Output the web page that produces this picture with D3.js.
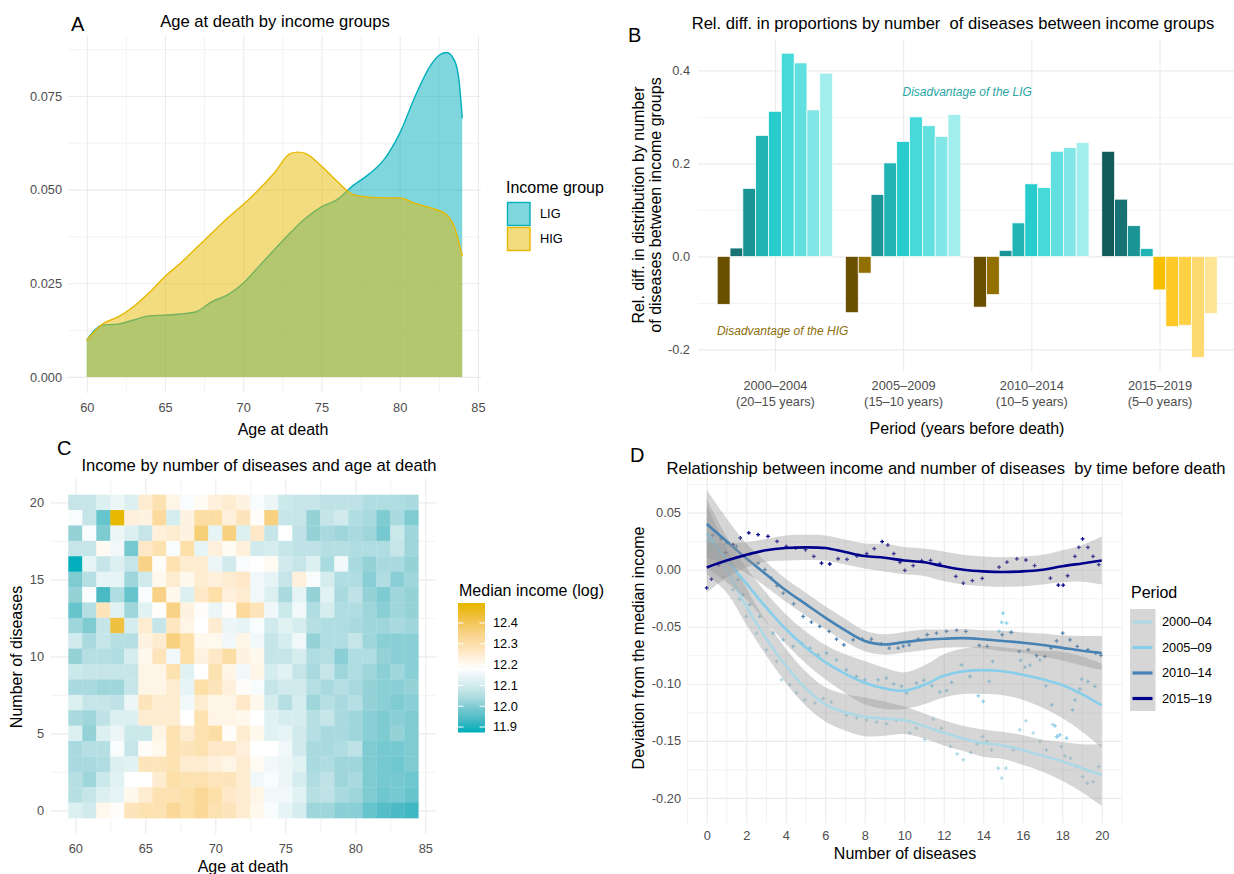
<!DOCTYPE html>
<html><head><meta charset="utf-8">
<script src="https://cdn.jsdelivr.net/npm/d3@7"></script>
<style>body{margin:0;background:#fff}svg{display:block}text{font-family:"Liberation Sans",Arial,Helvetica,sans-serif;white-space:pre}</style>
</head><body>
<svg id="c" width="1234" height="874"></svg>
<script>
// ---------------- DATA ----------------
// Panel A: density of age at death
const ligAges    = [60,61,62,63,64,65,66,67,68,69,70,71,72,73,74,75,76,77,78,79,80,81,82,82.5,83,83.5,83.8,84];
const ligDensity = [0.0098,0.0138,0.0141,0.0152,0.0163,0.0165,0.0168,0.0174,0.0201,0.0219,0.025,0.0295,0.034,0.0384,0.0424,0.0454,0.0473,0.051,0.054,0.058,0.065,0.075,0.0833,0.0858,0.0866,0.0845,0.079,0.069];
const higAges    = [60,61,62,63,64,65,66,67,68,69,70,71,72,73,73.5,74,75,76,77,78,79,80,81,82,83,83.5,84];
const higDensity = [0.0098,0.0141,0.016,0.0188,0.0225,0.0268,0.0304,0.0344,0.0384,0.0424,0.046,0.050,0.0545,0.0596,0.0600,0.0596,0.0563,0.0522,0.0487,0.048,0.0478,0.0478,0.0463,0.0451,0.0433,0.040,0.0323];
const incomeGroups = ["LIG","HIG"];

// Panel B: relative difference by number of diseases
const periods      = ["2000–2004","2005–2009","2010–2014","2015–2019"];
const periodYears  = ["(20–15 years)","(15–10 years)","(10–5 years)","(5–0 years)"];
const relDiff2000  = [-0.103,0.018,0.146,0.260,0.312,0.437,0.416,0.315,0.394];
const relDiff2005  = [-0.121,-0.036,0.133,0.201,0.247,0.300,0.281,0.258,0.305];
const relDiff2010  = [-0.109,-0.082,0.013,0.072,0.156,0.148,0.226,0.234,0.245];
const relDiff2015  = [0.226,0.123,0.066,0.017,-0.072,-0.151,-0.148,-0.217,-0.123];

// Panel C: median income (log) by age at death (cols) and number of diseases (rows, top = 20)
const heatAges = [60,61,62,63,64,65,66,67,68,69,70,71,72,73,74,75,76,77,78,79,80,81,82,83,84];
const heatDiseases = [20,19,18,17,16,15,14,13,12,11,10,9,8,7,6,5,4,3,2,1,0];
const medianIncome = [
 [12.08,12.08,12.12,12.15,12.12,12.25,12.29,12.22,12.17,12.2,12.24,12.25,12.23,12.17,12.15,12.09,12.08,12.08,12.07,12.07,12.07,12.05,12.05,12.05,12.04],
 [12.17,12.08,11.97,12.49,12.24,12.23,12.32,12.11,12.23,12.31,12.31,12.24,12.28,12.19,12.36,12.08,12.08,12.02,12.08,12.1,12.05,12.04,12.0,12.04,12.0],
 [12.02,12.17,12.0,12.15,12.12,12.08,12.24,12.25,12.23,12.37,12.14,12.36,12.12,12.26,12.08,12.18,12.07,12.02,12.04,12.03,12.04,12.03,11.99,12.09,12.03],
 [12.08,12.08,12.2,12.16,11.99,12.26,12.29,12.17,12.3,12.14,12.24,12.2,12.24,12.1,12.11,12.08,12.07,12.07,12.06,12.06,12.05,12.05,12.05,12.08,12.03],
 [11.88,12.14,12.08,12.12,12.08,12.35,12.19,12.29,12.25,12.25,12.15,12.1,12.17,12.18,12.2,12.1,12.08,12.12,12.04,12.16,12.04,12.02,12.04,12.04,12.02],
 [12.0,12.06,12.14,12.14,12.03,12.1,12.21,12.25,12.21,12.25,12.24,12.25,12.26,12.16,12.14,12.08,12.24,12.17,12.11,12.05,12.05,12.01,12.05,12.01,12.03],
 [12.02,12.17,11.94,12.05,11.97,12.17,12.35,12.21,12.12,12.26,12.3,12.24,12.25,12.16,12.12,12.04,12.14,12.02,12.13,12.04,12.07,12.02,12.0,12.03,12.02],
 [11.97,12.06,12.28,12.13,12.03,12.13,12.19,12.35,12.23,12.19,12.15,12.19,12.32,12.28,12.16,12.09,12.16,12.05,12.11,12.05,12.05,12.03,12.01,12.03,12.02],
 [12.03,12.0,12.08,12.43,12.11,12.25,12.08,12.27,12.22,12.18,12.25,12.15,12.14,12.17,12.1,12.13,12.11,12.06,12.05,12.05,12.04,12.03,12.03,12.04,12.03],
 [12.1,12.04,12.08,12.06,12.06,12.23,12.25,12.36,12.3,12.21,12.21,12.16,12.22,12.16,12.08,12.11,12.16,12.02,12.05,12.05,12.08,12.03,12.01,12.01,12.01],
 [12.02,12.06,12.06,12.05,12.11,12.21,12.28,12.16,12.3,12.23,12.26,12.31,12.23,12.21,12.08,12.08,12.11,12.05,12.06,12.01,12.05,12.05,12.02,12.01,12.01],
 [12.09,12.08,12.08,12.08,12.08,12.22,12.22,12.29,12.13,12.18,12.29,12.22,12.16,12.22,12.11,12.13,12.08,12.04,12.08,12.03,12.05,12.03,12.01,12.03,12.01],
 [12.04,12.04,12.03,12.03,12.08,12.22,12.22,12.25,12.14,12.3,12.28,12.24,12.19,12.17,12.08,12.1,12.1,12.06,12.04,12.06,12.04,12.02,12.01,12.01,12.02],
 [12.12,12.08,12.08,12.07,12.15,12.28,12.25,12.25,12.16,12.25,12.22,12.22,12.26,12.21,12.11,12.06,12.11,12.03,12.06,12.04,12.06,12.02,12.01,12.0,12.01],
 [12.04,12.03,12.07,12.12,12.12,12.25,12.25,12.25,12.18,12.29,12.22,12.22,12.21,12.18,12.13,12.11,12.11,12.06,12.08,12.04,12.03,12.01,12.0,12.01,12.0],
 [12.12,12.02,12.12,12.15,12.09,12.09,12.22,12.29,12.25,12.29,12.31,12.19,12.25,12.21,12.13,12.14,12.1,12.06,12.04,12.04,12.03,12.01,12.0,12.02,12.0],
 [12.04,12.06,12.06,12.17,12.08,12.19,12.21,12.29,12.28,12.29,12.26,12.26,12.24,12.18,12.18,12.16,12.1,12.04,12.04,12.05,12.07,12.0,11.99,11.99,12.0],
 [12.04,12.04,12.05,12.12,12.13,12.28,12.28,12.29,12.25,12.25,12.24,12.22,12.25,12.2,12.16,12.15,12.13,12.04,12.05,12.03,12.03,12.0,11.99,11.98,12.0],
 [12.06,12.03,12.09,12.13,12.18,12.18,12.25,12.3,12.29,12.29,12.28,12.28,12.25,12.16,12.17,12.15,12.11,12.05,12.07,12.03,12.04,12.0,11.99,11.99,11.98],
 [12.06,12.08,12.12,12.14,12.21,12.25,12.29,12.29,12.3,12.33,12.3,12.26,12.25,12.22,12.16,12.16,12.13,12.06,12.07,12.04,12.03,12.0,11.98,11.99,11.97],
 [12.12,12.1,12.21,12.19,12.28,12.29,12.29,12.33,12.3,12.33,12.29,12.28,12.25,12.21,12.17,12.14,12.11,12.03,12.03,12.01,12.01,11.97,11.95,11.94,11.93]
];
const incomeLegendTicks = [11.9,12.0,12.1,12.2,12.3,12.4];

// Panel D: smoothed deviation from the median income by number of diseases
const smoothPeriods = ["2000–04","2005–09","2010–14","2015–19"];
const diseaseX = [0,1,2,3,4,5,6,7,8,9,10,11,12,13,14,15,16,17,18,19,20];
const fit2000 = [0.026,0.0,-0.032,-0.06,-0.084,-0.104,-0.118,-0.125,-0.129,-0.1305,-0.132,-0.137,-0.143,-0.148,-0.152,-0.154,-0.158,-0.163,-0.168,-0.174,-0.180];
const se2000  = [0.03,0.02,0.016,0.015,0.015,0.015,0.015,0.016,0.017,0.015,0.012,0.011,0.011,0.011,0.012,0.012,0.013,0.014,0.017,0.021,0.027];
const fit2005 = [0.032,0.009,-0.012,-0.033,-0.052,-0.068,-0.081,-0.091,-0.099,-0.104,-0.106,-0.101,-0.093,-0.089,-0.088,-0.089,-0.092,-0.096,-0.101,-0.109,-0.119];
const se2005  = [0.03,0.02,0.014,0.013,0.013,0.014,0.015,0.017,0.019,0.018,0.016,0.017,0.019,0.02,0.021,0.021,0.022,0.025,0.029,0.033,0.037];
const fit2010 = [0.040,0.025,0.010,-0.004,-0.018,-0.030,-0.042,-0.053,-0.0625,-0.0655,-0.0635,-0.0615,-0.0605,-0.060,-0.061,-0.0625,-0.064,-0.066,-0.0685,-0.071,-0.073];
const se2010  = [0.03,0.02,0.013,0.011,0.01,0.01,0.01,0.01,0.009,0.009,0.009,0.009,0.008,0.008,0.008,0.009,0.009,0.01,0.011,0.013,0.015];
const fit2015 = [0.002,0.008,0.013,0.017,0.019,0.0196,0.019,0.0155,0.012,0.0105,0.008,0.0065,0.003,0.0,-0.0015,-0.002,-0.0015,0.0,0.003,0.0055,0.008];
const se2015  = [0.022,0.015,0.011,0.01,0.011,0.011,0.011,0.011,0.011,0.012,0.012,0.012,0.013,0.013,0.013,0.013,0.013,0.013,0.014,0.016,0.021];
const pts2000 = [[0.15,0.016],[0.83,-0.006],[1.33,-0.0175],[1.67,-0.026],[2.0,-0.041],[2.52,-0.0556],[3.02,-0.0702],[3.53,-0.0804],[3.78,-0.0965],[4.2,-0.101],[4.54,-0.108],[4.96,-0.114],[5.47,-0.117],[5.89,-0.113],[6.31,-0.116],[7.07,-0.1277],[7.58,-0.1298],[8.09,-0.1316],[8.6,-0.1336],[9.1,-0.135],[9.6,-0.132],[10.28,-0.143],[10.62,-0.1389],[11.04,-0.149],[11.47,-0.131],[11.88,-0.1389],[12.34,-0.155],[12.68,-0.1614],[12.99,-0.1667],[13.36,-0.1602],[13.69,-0.1526],[13.96,-0.1462],[14.2,-0.1505],[14.42,-0.158],[14.76,-0.174],[14.93,-0.1827],[15.15,-0.174],[15.52,-0.158],[15.85,-0.1404],[16.16,-0.1325],[16.53,-0.143],[16.87,-0.1505],[17.2,-0.158],[17.51,-0.1355],[17.71,-0.1462],[17.96,-0.155],[18.13,-0.1632],[18.42,-0.1652],[18.72,-0.172],[19.03,-0.1813],[19.27,-0.1871],[19.57,-0.1857],[19.85,-0.1725]];
const pts2005 = [[0.12,0.026],[0.83,0.0058],[1.58,-0.0088],[1.84,-0.0219],[2.18,-0.0307],[2.68,-0.041],[3.36,-0.0556],[3.87,-0.0614],[4.37,-0.0673],[4.8,-0.0643],[5.22,-0.0687],[5.64,-0.0746],[6.06,-0.073],[6.57,-0.079],[7.07,-0.0877],[7.58,-0.0936],[8.0,-0.0965],[8.68,-0.0965],[9.1,-0.095],[9.47,-0.1],[9.86,-0.1023],[10.12,-0.108],[10.62,-0.0994],[10.99,-0.097],[11.4,-0.1018],[11.8,-0.107],[12.14,-0.106],[12.4,-0.0988],[12.9,-0.0833],[13.33,-0.0936],[13.75,-0.1105],[14.0,-0.1155],[14.3,-0.0979],[14.47,-0.0804],[14.8,-0.0541],[14.93,-0.0462],[15.0,-0.038],[15.18,-0.0468],[15.38,-0.055],[15.89,-0.0795],[16.11,-0.0854],[16.36,-0.0836],[16.87,-0.079],[17.17,-0.1018],[17.46,-0.1184],[17.63,-0.1368],[17.75,-0.1462],[17.88,-0.1447],[18.22,-0.1476],[18.52,-0.1228],[18.64,-0.114],[18.89,-0.1047],[18.98,-0.096],[19.3,-0.098],[19.65,-0.1023]];
const pts2010 = [[0.3,0.03],[0.7,0.027],[1.03,0.0234],[1.5,0.0205],[2.18,0.0132],[2.6,0.0058],[2.94,0.0],[3.27,-0.0073],[3.56,-0.014],[3.87,-0.0205],[4.4,-0.03],[4.88,-0.041],[5.3,-0.046],[5.72,-0.0497],[6.2,-0.054],[6.57,-0.0608],[6.94,-0.0658],[7.41,-0.0614],[7.88,-0.0608],[8.34,-0.0608],[8.85,-0.065],[9.24,-0.0687],[9.69,-0.0687],[9.95,-0.067],[10.25,-0.0658],[10.71,-0.0608],[11.16,-0.057],[11.63,-0.0556],[12.14,-0.0541],[12.65,-0.0532],[13.12,-0.0541],[13.8,-0.0664],[14.2,-0.0673],[14.96,-0.057],[15.43,-0.055],[15.82,-0.0716],[16.28,-0.0702],[16.7,-0.0754],[17.12,-0.076],[17.43,-0.0687],[17.71,-0.0623],[18.02,-0.0556],[18.39,-0.0614],[18.76,-0.0673],[19.3,-0.07],[19.7,-0.073],[19.95,-0.075]];
const pts2015 = [[0.0,-0.016],[0.24,-0.0082],[0.6,0.004],[0.96,0.015],[1.33,0.0219],[1.7,0.0278],[2.13,0.0322],[2.6,0.0307],[3.1,0.0292],[3.56,0.0249],[4.03,0.0204],[4.5,0.019],[5.0,0.0175],[5.42,0.0117],[5.81,0.0058],[6.23,0.005],[6.65,0.0096],[7.1,0.009],[7.6,0.012],[8.1,0.014],[8.48,0.0184],[8.88,0.0246],[9.17,0.0216],[9.47,0.014],[9.78,0.0064],[10.03,-0.0006],[10.45,0.0035],[10.88,0.0079],[11.33,0.0082],[11.8,0.0053],[12.61,-0.0058],[12.99,-0.0117],[13.45,-0.0096],[13.95,-0.0076],[14.8,0.0023],[15.2,0.0067],[15.7,0.0094],[16.16,0.0085],[16.6,0.0035],[17.4,-0.0073],[17.8,-0.0135],[18.05,-0.0135],[18.27,-0.0053],[18.64,0.0117],[18.84,0.0196],[19.03,0.027],[19.3,0.0196],[19.56,0.0117],[19.85,0.0044]];

// ---------------- STYLE ----------------
const FONT = '"Liberation Sans", Arial, Helvetica, sans-serif';
const GRID = "#EBEBEB", TICKC = "#4D4D4D";
const TITLE_SIZE = 16.6;
const groupColors = ["#00AFBB","#E7B800"];
const posPalette = ["#125B5B","#177373","#1A9494","#20B4B4","#29CCCC","#45D9D9","#62DFDF","#82E6E6","#A2EDED"];
const negPalette = ["#6B4F00","#927000","#B88F00","#DDA900","#F7BF00","#FEC826","#FED043","#FED96F","#FEE494"];
const heatStops  = [11.88,11.94,11.97,12.0,12.02,12.04,12.06,12.08,12.1,12.12,12.14,12.16,12.18,12.21,12.24,12.26,12.28,12.3,12.33,12.36,12.43,12.49];
const heatColors = ["#00AFBB","#4CBAC4","#66C4CC","#7ECBD2","#94D2D8","#A8DADF","#B6DFE3","#C5E5E8","#D0EAED","#DCEFF1","#E6F4F5","#F1F8F9","#FFFFFF","#FFF8EC","#FEF0DA","#FEE8C8","#FDE4BA","#FDDFA8","#FBD898","#F7D17F","#F0C040","#E7B800"];
const lineColors = ["#ADD8E6","#87CEEB","#4682B4","#00008B"];

const svg = d3.select("#c");
svg.append("rect").attr("width",1234).attr("height",874).attr("fill","#fff");

function txt(x,y,s,o={}){
  const t = svg.append("text").attr("x",x).attr("y",y).attr("dy","0.35em").text(s)
    .attr("font-size",o.size||16).attr("fill",o.fill||"#000")
    .attr("text-anchor",o.anchor||"start").attr("font-family",FONT)
    .attr("xml:space","preserve");
  if(o.italic) t.attr("font-style","italic");
  if(o.rot) t.attr("x",0).attr("y",0).attr("transform",`translate(${x},${y}) rotate(-90)`);
  return t;
}
function gridV(scale, vals, y0, y1, sw){
  const g = svg.append("g").attr("transform",`translate(0,${y1})`)
    .call(d3.axisBottom(scale).tickValues(vals).tickSize(-(y1-y0)).tickFormat(""));
  g.select(".domain").remove();
  g.selectAll("line").attr("stroke",GRID).attr("stroke-width",sw);
}
function gridH(scale, vals, x0, x1, sw){
  const g = svg.append("g").attr("transform",`translate(${x0},0)`)
    .call(d3.axisLeft(scale).tickValues(vals).tickSize(-(x1-x0)).tickFormat(""));
  g.select(".domain").remove();
  g.selectAll("line").attr("stroke",GRID).attr("stroke-width",sw);
}
function ticksBottom(scale, vals, fmt, cy){
  const g = svg.append("g").attr("transform",`translate(0,${cy-4.5})`)
    .call(d3.axisBottom(scale).tickValues(vals).tickSize(0).tickPadding(0).tickFormat(fmt));
  g.select(".domain").remove();
  g.selectAll("text").attr("fill",TICKC).attr("font-size",12.8).attr("font-family",FONT);
}
function ticksLeft(scale, vals, fmt, xr){
  const g = svg.append("g").attr("transform",`translate(${xr},0)`)
    .call(d3.axisLeft(scale).tickValues(vals).tickSize(0).tickPadding(0).tickFormat(fmt));
  g.select(".domain").remove();
  g.selectAll("text").attr("fill",TICKC).attr("font-size",12.8).attr("font-family",FONT);
}

// ================= PANEL A =================
{
  const x = d3.scaleLinear().domain([58.8,85.2]).range([68,481]);
  const y = d3.scaleLinear().domain([-0.0043,0.091]).range([393,36]);
  gridH(y,[0.0125,0.0375,0.0625,0.0875],68,481,0.6);
  gridV(x,[62.5,67.5,72.5,77.5,82.5],36,393,0.6);
  gridH(y,[0,0.025,0.05,0.075],68,481,1.1);
  gridV(x,[60,65,70,75,80,85],36,393,1.1);
  const series = [[ligAges,ligDensity],[higAges,higDensity]];
  series.forEach(([ages,dens],k)=>{
    const data = ages.map((a,i)=>[a,dens[i]]);
    svg.append("path").datum(data)
      .attr("d",d3.area().x(d=>x(d[0])).y0(y(0)).y1(d=>y(d[1])).curve(d3.curveMonotoneX))
      .attr("fill",groupColors[k]).attr("fill-opacity",0.5);
    svg.append("path").datum(data)
      .attr("d",d3.line().x(d=>x(d[0])).y(d=>y(d[1])).curve(d3.curveMonotoneX))
      .attr("fill","none").attr("stroke",groupColors[k]).attr("stroke-width",1.4);
  });
  ticksLeft(y,[0,0.025,0.05,0.075],d=>d.toFixed(3),62);
  ticksBottom(x,[60,65,70,75,80,85],d=>d,407);
  txt(275,21,"Age at death by income groups",{anchor:"middle",size:TITLE_SIZE});
  txt(71,24,"A",{size:20});
  txt(283,429,"Age at death",{anchor:"middle"});
  // legend
  txt(506,187,"Income group");
  incomeGroups.forEach((gname,k)=>{
    const ky = 202 + k*25;
    svg.append("rect").attr("x",507.5).attr("y",ky+0.5).attr("width",22.5).attr("height",23)
      .attr("fill",groupColors[k]).attr("fill-opacity",0.5).attr("stroke",groupColors[k]).attr("stroke-width",1.4);
    txt(540,ky+12,gname,{size:12.8});
  });
}

// ================= PANEL B =================
{
  const x = d3.scalePoint().domain(periods).range([698,1236.4]).padding(0.6);
  const step = x.step();
  const y = d3.scaleLinear().domain([-0.2475,0.4675]).range([371.5,39]);
  gridH(y,[-0.1,0.1,0.3],698,1236,0.6);
  gridH(y,[-0.2,0,0.2,0.4],698,1236,1.1);
  gridV(x,periods,39,371.5,1.1);
  const all = [relDiff2000,relDiff2005,relDiff2010,relDiff2015];
  all.forEach((vals,pi)=>{
    vals.forEach((v,j)=>{
      const cx = x(periods[pi]) + (j-4)*0.1*step;
      const w = 0.1*step;
      svg.append("rect").attr("x",cx-w/2).attr("width",w)
        .attr("y",Math.min(y(0),y(v))).attr("height",Math.abs(y(v)-y(0)))
        .attr("fill", v>=0 ? posPalette[j] : negPalette[j])
        .attr("stroke","#fff").attr("stroke-width",0.7);
    });
  });
  ticksLeft(y,[-0.2,0,0.2,0.4],d=>d.toFixed(1),690);
  ticksBottom(x,periods,d=>d,385);
  ticksBottom(x,periods,(d,i)=>periodYears[i],401);
  const xPos = p => x(periods[0]) + (p-1)*step;
  txt(xPos(2.5),y(0.355),"Disadvantage of the LIG",{anchor:"middle",size:12,italic:true,fill:"#2AA6A6"});
  txt(xPos(1.06),y(-0.16),"Disadvantage of the HIG",{anchor:"middle",size:12,italic:true,fill:"#8C6D0A"});
  txt(953,23,"Rel. diff. in proportions by number  of diseases between income groups",{anchor:"middle",size:TITLE_SIZE});
  txt(628,35,"B",{size:20});
  txt(638,205,"Rel. diff. in distribution by number",{anchor:"middle",rot:true});
  txt(655,205,"of diseases between income groups",{anchor:"middle",rot:true});
  txt(967,428,"Period (years before death)",{anchor:"middle"});
}

// ================= PANEL C =================
{
  const x = d3.scaleLinear().domain([58.25,85.75]).range([50.8,435.8]);
  const y = d3.scaleLinear().domain([-1.55,21.55]).range([834.2,478.5]);
  gridH(y,[2.5,7.5,12.5,17.5],50.8,435.8,0.6);
  gridV(x,[62.5,67.5,72.5,77.5,82.5],478.5,834.2,0.6);
  gridH(y,[0,5,10,15,20],50.8,435.8,1.1);
  gridV(x,[60,65,70,75,80,85],478.5,834.2,1.1);
  const color = d3.scaleLinear().domain(heatStops).range(heatColors).clamp(true);
  medianIncome.forEach((row,ri)=>{
    const d = heatDiseases[ri];
    row.forEach((v,ci)=>{
      const a = heatAges[ci];
      svg.append("rect").attr("x",x(a-0.5)).attr("width",x(a+0.5)-x(a-0.5)+0.3)
        .attr("y",y(d+0.5)).attr("height",y(d-0.5)-y(d+0.5)+0.3)
        .attr("fill",color(v));
    });
  });
  ticksLeft(y,[0,5,10,15,20],d=>d,44);
  ticksBottom(x,[60,65,70,75,80,85],d=>d,848);
  txt(259,465,"Income by number of diseases and age at death",{anchor:"middle",size:TITLE_SIZE});
  txt(57,448,"C",{size:20});
  txt(16,657,"Number of diseases",{anchor:"middle",rot:true});
  txt(243,866,"Age at death",{anchor:"middle"});
  // colourbar legend
  txt(459,590,"Median income (log)");
  const ly = d3.scaleLinear().domain([11.876,12.496]).range([732,603]);
  const nSteps = 129;
  for(let i=0;i<nSteps;i++){
    const v0 = 11.876 + (12.496-11.876)*i/nSteps, v1 = 11.876 + (12.496-11.876)*(i+1)/nSteps;
    svg.append("rect").attr("x",458).attr("width",27).attr("y",ly(v1)).attr("height",ly(v0)-ly(v1)+0.5)
      .attr("fill",color((v0+v1)/2));
  }
  incomeLegendTicks.forEach(t=>{
    svg.append("line").attr("x1",458).attr("x2",463.5).attr("y1",ly(t)).attr("y2",ly(t)).attr("stroke","#fff").attr("stroke-width",1);
    svg.append("line").attr("x1",479.5).attr("x2",485).attr("y1",ly(t)).attr("y2",ly(t)).attr("stroke","#fff").attr("stroke-width",1);
    txt(493,ly(t),t.toFixed(1),{size:12.8});
  });
}

// ================= PANEL D =================
{
  const x = d3.scaleLinear().domain([-1,21]).range([687,1121.5]);
  const y = d3.scaleLinear().domain([-0.222,0.083]).range([823,475]);
  gridH(y,[-0.175,-0.125,-0.075,-0.025,0.025,0.075],687,1121.5,0.6);
  gridV(x,[-1,1,3,5,7,9,11,13,15,17,19,21],475,823,0.6);
  gridH(y,[-0.2,-0.15,-0.1,-0.05,0,0.05],687,1121.5,1.1);
  gridV(x,[0,2,4,6,8,10,12,14,16,18,20],475,823,1.1);
  const fits = [fit2000,fit2005,fit2010,fit2015];
  const ses  = [se2000,se2005,se2010,se2015];
  const pts  = [pts2000,pts2005,pts2010,pts2015];
  const sym = d3.symbol().type(d3.symbolCross).size(8);
  pts.forEach((arr,k)=>{
    svg.append("g").selectAll("path").data(arr).join("path")
      .attr("d",sym).attr("transform",d=>`translate(${x(d[0])},${y(d[1])})`)
      .attr("fill",lineColors[k]);
  });
  fits.forEach((f,k)=>{
    const se = ses[k];
    svg.append("path").datum(f)
      .attr("d",d3.area().x((d,i)=>x(diseaseX[i])).y0((d,i)=>y(d-se[i])).y1((d,i)=>y(d+se[i])).curve(d3.curveCatmullRom))
      .attr("fill","#999999").attr("fill-opacity",0.4);
    svg.append("path").datum(f)
      .attr("d",d3.line().x((d,i)=>x(diseaseX[i])).y(d=>y(d)).curve(d3.curveCatmullRom))
      .attr("fill","none").attr("stroke",lineColors[k]).attr("stroke-width",2.6);
  });
  ticksLeft(y,[-0.2,-0.15,-0.1,-0.05,0,0.05],d=>d.toFixed(2),681);
  ticksBottom(x,[0,2,4,6,8,10,12,14,16,18,20],d=>d,835);
  txt(946,468,"Relationship between income and number of diseases  by time before death",{anchor:"middle",size:TITLE_SIZE});
  txt(630,455,"D",{size:20});
  txt(638,648,"Deviation from the median income",{anchor:"middle",rot:true});
  txt(905,853,"Number of diseases",{anchor:"middle"});
  // legend
  txt(1131,592,"Period");
  svg.append("rect").attr("x",1130).attr("y",609).attr("width",25.5).attr("height",102).attr("fill","#999999").attr("fill-opacity",0.4);
  smoothPeriods.forEach((p,k)=>{
    const ky = 622 + k*25.5;
    svg.append("line").attr("x1",1132.5).attr("x2",1152.5).attr("y1",ky).attr("y2",ky)
      .attr("stroke",lineColors[k]).attr("stroke-width",3.2);
    txt(1162,ky,p,{size:12.8});
  });
}
</script>
</body></html>
